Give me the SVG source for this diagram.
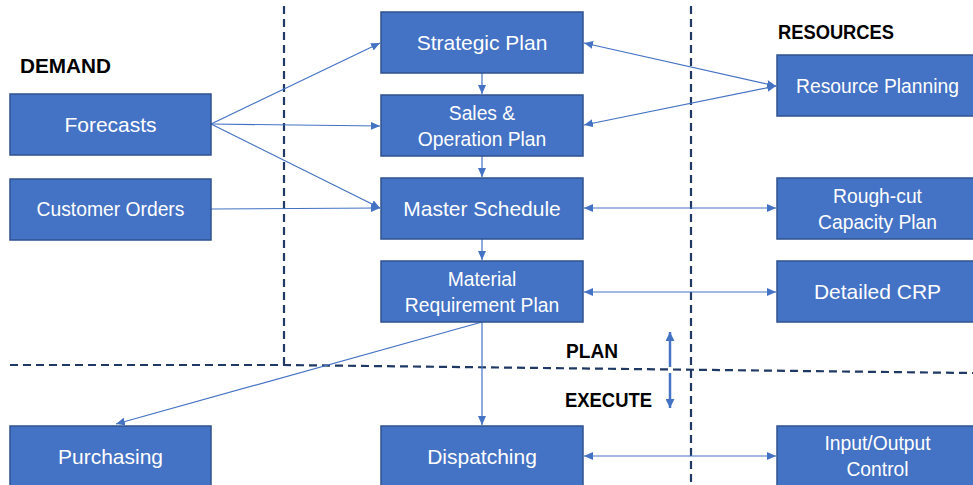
<svg xmlns="http://www.w3.org/2000/svg" width="973" height="485" viewBox="0 0 973 485">
<style>
.box{fill:#4472C4;stroke:#2F528F;stroke-width:1.5}
.t{font-family:"Liberation Sans",Arial,sans-serif;fill:#fff;text-anchor:middle}
.big{font-size:21px}
.sm{font-size:19.3px}
.h{font-family:"Liberation Sans",Arial,sans-serif;font-weight:bold;font-size:19.5px;fill:#000}
.c{stroke:#4472C4;stroke-width:1.2;fill:none}
.d{stroke:#1F3864;stroke-width:2.2;stroke-dasharray:8 5;fill:none}
</style>
<defs>
<marker id="ah" markerUnits="userSpaceOnUse" markerWidth="10" markerHeight="8" refX="9" refY="4" orient="auto-start-reverse">
<path d="M0,0 L9,4 L0,8 z" fill="#4472C4"/>
</marker>
<marker id="ah2" markerUnits="userSpaceOnUse" markerWidth="10" markerHeight="9" refX="9" refY="4.5" orient="auto">
<path d="M0,0 L9,4.5 L0,9 z" fill="#4472C4"/>
</marker>
</defs>
<rect width="973" height="485" fill="#fff"/>
<g id="dividers">
<line class="d" x1="284" y1="6" x2="284" y2="365"/>
<polyline class="d" points="10,365 284,365 973,373"/>
<line class="d" x1="691" y1="6" x2="691" y2="485"/>
</g>
<g id="labels">
<text class="h" x="20" y="73" textLength="91" lengthAdjust="spacingAndGlyphs">DEMAND</text>
<text class="h" x="778" y="39" textLength="116" lengthAdjust="spacingAndGlyphs">RESOURCES</text>
<text class="h" x="566" y="358" textLength="52" lengthAdjust="spacingAndGlyphs">PLAN</text>
<text class="h" x="565" y="407" textLength="87" lengthAdjust="spacingAndGlyphs">EXECUTE</text>
</g>
<g id="connectors">
<line class="c" x1="211" y1="124" x2="380" y2="43" marker-end="url(#ah)"/>
<line class="c" x1="211" y1="124" x2="380" y2="126" marker-end="url(#ah)"/>
<line class="c" x1="211" y1="124" x2="380" y2="208" marker-end="url(#ah)"/>
<line class="c" x1="211" y1="209" x2="380" y2="208" marker-end="url(#ah)"/>
<line class="c" x1="482" y1="73" x2="482" y2="94" marker-end="url(#ah)"/>
<line class="c" x1="482" y1="156" x2="482" y2="177" marker-end="url(#ah)"/>
<line class="c" x1="482" y1="239" x2="482" y2="260" marker-end="url(#ah)"/>
<line class="c" x1="482" y1="322" x2="482" y2="425" marker-end="url(#ah)"/>
<line class="c" x1="482" y1="322" x2="116" y2="424" marker-end="url(#ah)"/>
<line class="c" x1="584" y1="43" x2="776" y2="86" marker-start="url(#ah)" marker-end="url(#ah)"/>
<line class="c" x1="584" y1="125" x2="776" y2="86" marker-start="url(#ah)" marker-end="url(#ah)"/>
<line class="c" x1="584" y1="208" x2="776" y2="208" marker-start="url(#ah)" marker-end="url(#ah)"/>
<line class="c" x1="584" y1="292" x2="776" y2="292" marker-start="url(#ah)" marker-end="url(#ah)"/>
<line class="c" x1="584" y1="456" x2="776" y2="456" marker-start="url(#ah)" marker-end="url(#ah)"/>
<line x1="670" y1="367" x2="670" y2="332" stroke="#4472C4" stroke-width="2.5" marker-end="url(#ah2)"/>
<line x1="670" y1="373" x2="670" y2="408" stroke="#4472C4" stroke-width="2.5" marker-end="url(#ah2)"/>
</g>
<g id="forecasts"><rect class="box" x="10" y="94" width="201" height="61"/><text class="t big" x="110.5" y="131.5">Forecasts</text></g>
<g id="customer-orders"><rect class="box" x="10" y="179" width="201" height="61"/><text class="t sm" x="110.5" y="216">Customer Orders</text></g>
<g id="purchasing"><rect class="box" x="10" y="426" width="201" height="61"/><text class="t big" x="110.5" y="463.5">Purchasing</text></g>
<g id="strategic-plan"><rect class="box" x="381" y="12" width="202" height="61"/><text class="t big" x="482" y="50">Strategic Plan</text></g>
<g id="sop"><rect class="box" x="381" y="95" width="202" height="61"/><text class="t sm" x="482" y="120">Sales &amp;</text><text class="t sm" x="482" y="145.5">Operation Plan</text></g>
<g id="master-schedule"><rect class="box" x="381" y="178" width="202" height="61"/><text class="t big" x="482" y="215.5">Master Schedule</text></g>
<g id="mrp"><rect class="box" x="381" y="261" width="202" height="61"/><text class="t sm" x="482" y="286">Material</text><text class="t sm" x="482" y="311.5">Requirement Plan</text></g>
<g id="dispatching"><rect class="box" x="381" y="426" width="202" height="61"/><text class="t big" x="482" y="463.5">Dispatching</text></g>
<g id="resource-planning"><rect class="box" x="777" y="55" width="201" height="61"/><text class="t sm" x="877.5" y="93">Resource Planning</text></g>
<g id="rough-cut"><rect class="box" x="777" y="178" width="201" height="61"/><text class="t sm" x="877.5" y="203">Rough-cut</text><text class="t sm" x="877.5" y="228.5">Capacity Plan</text></g>
<g id="detailed-crp"><rect class="box" x="777" y="261" width="201" height="61"/><text class="t big" x="877.5" y="298.5">Detailed CRP</text></g>
<g id="io-control"><rect class="box" x="777" y="426" width="201" height="61"/><text class="t sm" x="877.5" y="450">Input/Output</text><text class="t sm" x="877.5" y="475.5">Control</text></g>
</svg>
